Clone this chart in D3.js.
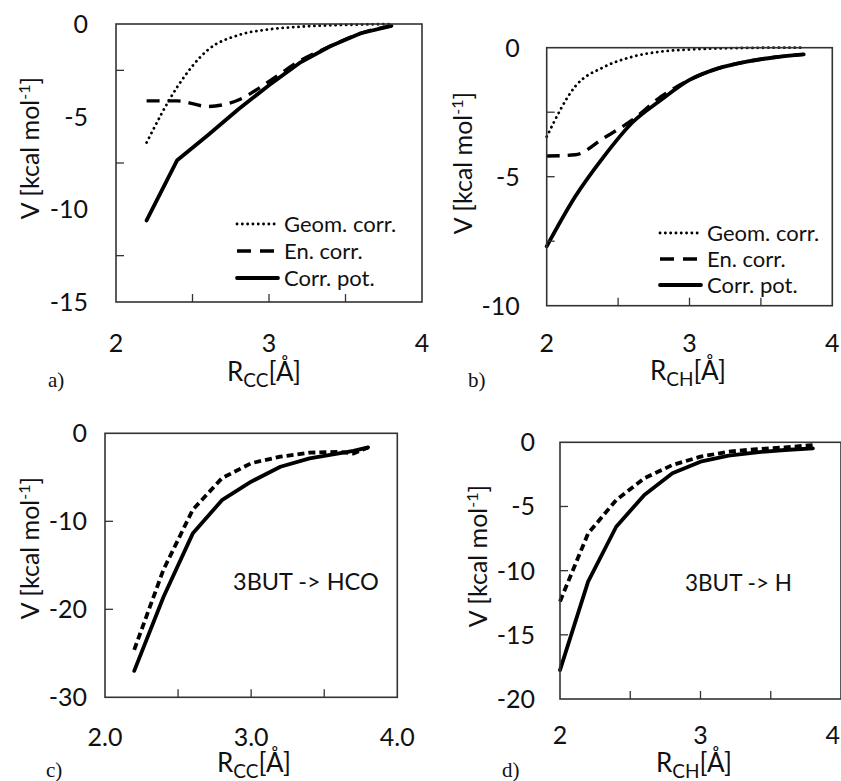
<!DOCTYPE html>
<html>
<head>
<meta charset="utf-8">
<script src="https://cdn.jsdelivr.net/npm/d3@7"></script>
<style>
  body { margin: 0; background: #fff; }
  svg { display: block; }
  text { font-family: Lato, "Open Sans", sans-serif; fill: #111; }
</style>
</head>
<body>
<svg id="chart" width="841" height="781"></svg>
<script>
// ---------- DATA ----------
// Panel a (R_CC)
const xA = [2.2, 2.4, 2.6, 2.8, 3.0, 3.2, 3.4, 3.6, 3.8];
const geomA = [-6.4, -3.4, -1.4, -0.6, -0.29, -0.15, -0.07, -0.03, 0];
const enA   = [-4.15, -4.15, -4.45, -4.1, -3.1, -2.0, -1.2, -0.5, -0.1];
const potA  = [-10.6, -7.35, -6.0, -4.6, -3.3, -2.1, -1.2, -0.5, -0.1];
// Panel b (R_CH)
const xB = [2.0, 2.2, 2.4, 2.6, 2.8, 3.0, 3.2, 3.4, 3.6, 3.8];
const geomB = [-3.45, -1.5, -0.75, -0.35, -0.15, -0.07, -0.03, -0.01, 0, 0];
const enB   = [-4.2, -4.15, -3.5, -2.8, -1.9, -1.25, -0.8, -0.54, -0.37, -0.26];
const potB  = [-7.7, -5.77, -4.22, -2.9, -2.03, -1.25, -0.8, -0.54, -0.37, -0.26];
// Panel c (3BUT -> HCO)
const xC = [2.2, 2.4, 2.6, 2.8, 3.0, 3.2, 3.4, 3.6, 3.7, 3.8];
const dashC  = [-24.6, -15.5, -8.7, -5.1, -3.4, -2.65, -2.2, -2.1, -2.3, -1.6];
const solidC = [-27.0, -18.6, -11.4, -7.6, -5.5, -3.8, -2.85, -2.27, -2.0, -1.6];
// Panel d (3BUT -> H)
const xD = [2.0, 2.2, 2.4, 2.6, 2.8, 3.0, 3.2, 3.4, 3.6, 3.8];
const dashD  = [-12.4, -7.1, -4.5, -2.8, -1.77, -1.12, -0.73, -0.53, -0.4, -0.21];
const solidD = [-17.75, -10.86, -6.58, -4.1, -2.42, -1.51, -1.04, -0.78, -0.6, -0.47];
// Tick labels / legend / annotations
const legendLabels = ["Geom. corr.", "En. corr.", "Corr. pot."];
const yLabelsA = [0, -5, -10, -15];
const yLabelsB = [0, -5, -10];
const yLabelsC = [0, -10, -20, -30];
const yLabelsD = [0, -5, -10, -15, -20];
const xLabelsAB = [2, 3, 4];
const xLabelsC = ["2.0", "3.0", "4.0"];
const annotC = "3BUT -> HCO";
const annotD = "3BUT -> H";

// ---------- STYLE ----------
const S = {
  dotted: {w: 2.8, dash: "0.1 5.2", cap: "round"},
  dashed: {w: 3.4, dash: "13 8", cap: "butt"},
  solid:  {w: 3.8, dash: null, cap: "round"},
  shortDash: {w: 3.8, dash: "7 4", cap: "butt"}
};

const svg = d3.select("#chart");

function panel(cfg) {
  const x = d3.scaleLinear().domain([2, 4]).range([cfg.left, cfg.right]);
  const y = d3.scaleLinear().domain([cfg.ymin, 0]).range([cfg.bottom, cfg.top]);
  const g = svg.append("g");

  // series
  cfg.series.forEach(s => {
    const line = d3.line().x(d => x(d[0])).y(d => y(d[1]))
      .curve(s.smooth ? d3.curveMonotoneX : (cfg.curve || d3.curveLinear));
    const st = S[s.style];
    g.append("path")
      .attr("d", line(s.xs.map((v, i) => [v, s.ys[i]])))
      .attr("fill", "none").attr("stroke", "#000")
      .attr("stroke-width", st.w)
      .attr("stroke-linecap", st.cap)
      .attr("stroke-linejoin", "round")
      .attr("stroke-dasharray", st.dash);
  });

  // frame
  g.append("rect")
    .attr("x", cfg.left).attr("y", cfg.top)
    .attr("width", cfg.right - cfg.left).attr("height", cfg.bottom - cfg.top)
    .attr("fill", "none").attr("stroke", "#333").attr("stroke-width", 1.6);

  // inner tick marks
  cfg.yTickMarks.forEach(v => {
    g.append("line").attr("x1", cfg.left).attr("x2", cfg.left + 8)
      .attr("y1", y(v)).attr("y2", y(v)).attr("stroke", "#333").attr("stroke-width", 1.3);
  });
  [2.5, 3, 3.5].forEach(v => {
    g.append("line").attr("x1", x(v)).attr("x2", x(v))
      .attr("y1", cfg.bottom).attr("y2", cfg.bottom - 8).attr("stroke", "#333").attr("stroke-width", 1.3);
  });

  // y tick labels
  cfg.yLabels.forEach(v => {
    g.append("text").attr("x", cfg.left - cfg.yLabelGap).attr("y", y(v))
      .attr("dy", "0.36em").attr("text-anchor", "end")
      .style("font-size", "25px").text(v);
  });
  // x tick labels
  cfg.xLabels.forEach((t, i) => {
    let px = x(2 + i), anchor = "middle";
    if (cfg.clampRight && px > 834) { px = 840; anchor = "end"; }
    g.append("text").attr("x", px).attr("y", cfg.bottom + cfg.xLabelGap)
      .attr("dy", "0.36em").attr("text-anchor", anchor)
      .style("font-size", "25px").text(t);
  });

  // x title
  const xt = g.append("text").attr("x", cfg.xTitle[0]).attr("y", cfg.xTitle[1])
    .attr("text-anchor", "middle").style("font-size", "26px");
  xt.append("tspan").text("R");
  xt.append("tspan").attr("dy", 6).style("font-size", "19px").text(cfg.sub);
  xt.append("tspan").attr("dy", -6).text("[Å]");

  // y title
  const yt = g.append("text")
    .attr("transform", `translate(${cfg.yTitle[0]},${cfg.yTitle[1]}) rotate(-90)`)
    .attr("text-anchor", "middle").attr("dy", "0.36em").style("font-size", "25px");
  yt.append("tspan").text("V [kcal mol");
  yt.append("tspan").attr("dy", -9).style("font-size", "16px").text("-1");
  yt.append("tspan").attr("dy", 9).text("]");

  // panel letter
  svg.append("text").attr("x", cfg.letter[0]).attr("y", cfg.letter[1])
    .style("font-family", "'Liberation Serif', serif").style("font-size", "21px")
    .text(cfg.letter[2]);

  // legend
  if (cfg.legend) {
    const L = cfg.legend;
    ["dotted", "dashed", "solid"].forEach((k, i) => {
      const yy = L.y + i * L.dy;
      const st = S[k];
      g.append("line").attr("x1", L.x).attr("x2", L.x + 41)
        .attr("y1", yy).attr("y2", yy).attr("stroke", "#000")
        .attr("stroke-width", st.w).attr("stroke-linecap", st.cap)
        .attr("stroke-dasharray", k === "dashed" ? "14 9" : st.dash);
      g.append("text").attr("x", L.x + 47).attr("y", yy).attr("dy", "0.36em")
        .style("font-size", "22px").text(legendLabels[i]);
    });
  }
  if (cfg.annot) {
    g.append("text").attr("x", cfg.annot[0]).attr("y", cfg.annot[1]).attr("dy", "0.36em")
      .style("font-size", cfg.annot[3]).text(cfg.annot[2]);
  }
}

panel({
  left: 116, right: 422, top: 24, bottom: 302, ymin: -15,
  yLabels: yLabelsA, yTickMarks: [-2.5, -7.5, -12.5], yLabelGap: 28,
  xLabels: xLabelsAB, xLabelGap: 41,
  xTitle: [264, 381], sub: "CC", yTitle: [30, 148], letter: [48, 387, "a)"],
  series: [
    {xs: xA, ys: geomA, style: "dotted", smooth: true},
    {xs: xA, ys: enA, style: "dashed", smooth: true},
    {xs: xA, ys: potA, style: "solid"}
  ],
  legend: {x: 237, y: 224, dy: 27}
});

panel({
  left: 546.7, right: 832.3, top: 47.7, bottom: 305.7, ymin: -10,
  yLabels: yLabelsB, yTickMarks: [-2.5, -5, -7.5], yLabelGap: 27,
  xLabels: xLabelsAB, xLabelGap: 37,
  xTitle: [688, 380], sub: "CH", yTitle: [463, 163], letter: [468, 387, "b)"],
  curve: d3.curveMonotoneX,
  series: [
    {xs: xB, ys: geomB, style: "dotted"},
    {xs: xB, ys: enB, style: "dashed"},
    {xs: xB, ys: potB, style: "solid"}
  ],
  legend: {x: 660, y: 233, dy: 26}
});

panel({
  left: 105, right: 397.3, top: 433.3, bottom: 697.3, ymin: -30,
  yLabels: yLabelsC, yTickMarks: [-10, -20], yLabelGap: 18,
  xLabels: xLabelsC, xLabelGap: 40,
  xTitle: [254, 772], sub: "CC", yTitle: [30, 548], letter: [46, 777, "c)"],
  series: [
    {xs: xC, ys: dashC, style: "shortDash"},
    {xs: xC, ys: solidC, style: "solid"}
  ],
  annot: [233, 582, annotC, "23.5px"]
});

panel({
  left: 560, right: 841, top: 442.3, bottom: 699, ymin: -20,
  yLabels: yLabelsD, yTickMarks: [-5, -10, -15], yLabelGap: 25,
  xLabels: xLabelsAB, xLabelGap: 36, clampRight: true,
  xTitle: [694, 772], sub: "CH", yTitle: [478, 556], letter: [502, 777, "d)"],
  series: [
    {xs: xD, ys: dashD, style: "shortDash"},
    {xs: xD, ys: solidD, style: "solid"}
  ],
  annot: [685, 583, annotD, "22.5px"]
});
</script>
</body>
</html>
